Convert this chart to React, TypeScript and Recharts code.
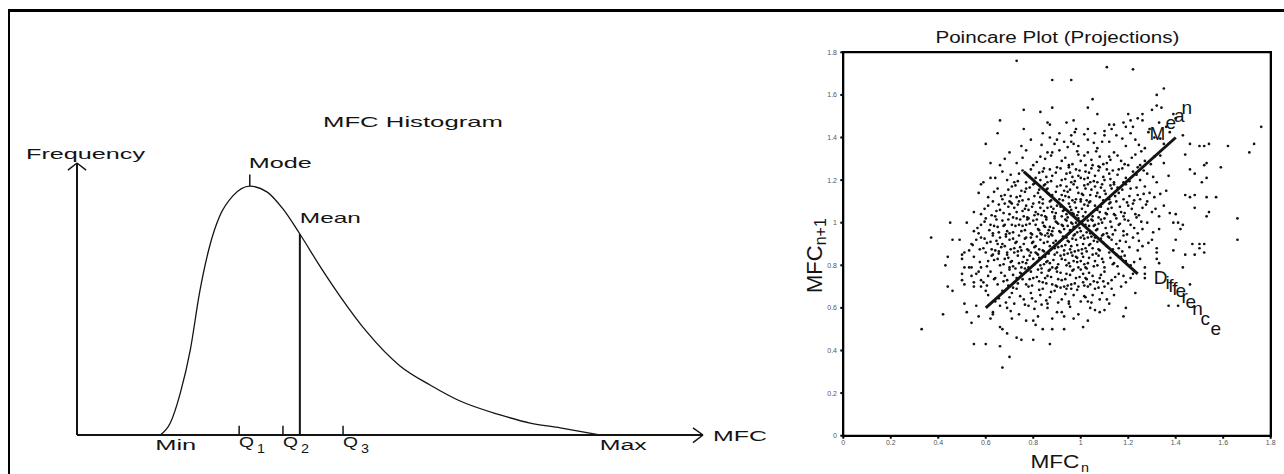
import React from 'react';
import {
  ComposedChart,
  Line,
  XAxis,
  YAxis,
  ReferenceLine,
  ReferenceDot,
  ScatterChart,
  Scatter,
  CartesianGrid,
} from 'recharts';

// ---- MFC histogram (schematic frequency curve) ----
const mfcGrid = [13.3, 14.9, 16.5, 18.1, 19.6, 21.2, 22.8, 24.9, 27.6, 30.4, 32.9, 35.6, 38.8, 42.0, 46.3, 51.6, 56.4, 61.2, 67.6, 72.4, 77.2, 83.5];
const frequency = [0, 4.4, 15.4, 31.3, 52.6, 69.5, 80.5, 87.9, 91.5, 89.3, 83.1, 73.9, 62.1, 51.1, 37.9, 25.4, 18.4, 12.5, 7.4, 4.4, 2.6, 0];

const MFC_MIN = 13.3;
const MFC_MAX = 83.5;
const MODE = 27.6;
const MODE_FREQ = 91.5;
const MEAN = 35.6;
const MEAN_FREQ = 73.9;
const quartiles = [25.9, 32.9, 42.5];
const quartileNames = ['1', '2', '3'];

// ---- Poincare plot: (MFC_n, MFC_n+1) pairs ----
const poincareTicks = [0, 0.2, 0.4, 0.6, 0.8, 1, 1.2, 1.4, 1.6, 1.8];
const meanAxis = [[0.6, 0.6], [1.4, 1.4]];
const diffAxis = [[0.76, 1.24], [1.24, 0.76]];

const mfcPairs: [number, number][] = [
  // sparse top / left
  [0.73,1.76],[0.88,1.67],[0.96,1.67],[0.76,1.53],[0.83,1.52],[0.88,1.54],[0.97,1.48],[0.66,1.48],[0.65,1.42],[0.76,1.44],
  [0.86,1.47],[0.87,1.46],[0.84,1.42],[0.6,1.37],[0.75,1.36],[0.77,1.34],[0.7,1.33],[0.87,1.4],[0.9,1.39],[0.89,1.37],
  [0.88,1.33],[0.86,1.33],[0.96,1.38],[0.97,1.37],[0.62,1.28],[0.66,1.27],[0.59,1.19],[0.58,1.18],[0.57,1.14],[0.64,1.21],
  [0.69,1.2],[0.72,1.19],[0.7,1.1],
  // sparse top / right
  [1.11,1.73],[1.22,1.72],[1.35,1.63],[1.32,1.6],[1.05,1.58],[1.03,1.54],[1.07,1.51],[1.32,1.55],[1.34,1.54],[1.3,1.53],
  [1.39,1.51],[1.4,1.49],[1.2,1.51],[1.24,1.49],[1.21,1.48],[1.18,1.47],[1.19,1.45],[1.26,1.51],[1.12,1.46],[1.13,1.44],
  [1.1,1.43],[1.09,1.38],[1.03,1.44],[1.06,1.42],[1.76,1.45],[1.73,1.37],[1.71,1.33],[1.62,1.36],[1.54,1.37],[1.52,1.36],
  [1.5,1.36],[1.59,1.26],[1.53,1.28],[1.52,1.27],[1.51,1.19],[1.53,1.21],[1.43,1.41],[1.46,1.37],[1.44,1.32],[1.46,1.25],
  [1.48,1.23],[1.44,1.13],[1.46,1.12],[1.48,1.13],[1.48,1.07],[1.53,1.12],[1.54,1.05],[1.57,1.12],[1.53,1.03],[1.66,1.02],
  [1.66,0.92],
  // sparse bottom / right
  [1.52,0.9],[1.5,0.9],[1.47,0.9],[1.5,0.88],[1.52,0.86],[1.48,0.85],[1.43,0.99],[1.42,0.97],[1.4,0.92],[1.39,0.87],
  [1.44,0.85],[1.43,0.79],[1.46,0.71],[1.41,0.61],[1.37,0.61],[1.23,0.67],[1.19,0.6],[1.18,0.56],[1.03,0.54],[1.01,0.51],
  [1.32,0.86],[1.33,0.81],[1.32,0.83],[1.27,0.79],[1.27,0.76],[1.27,0.74],[1.21,0.74],[1.22,0.76],[1.12,0.62],[1.1,0.59],
  [1.08,0.58],[1.06,0.59],[1.08,0.64],[1.03,0.63],[1.13,0.69],[1.1,0.7],[1.06,0.69],[1.03,0.7],[1.01,0.72],[0.99,0.7],
  [1.02,0.65],[1.32,0.88],[1.39,1.0],[1.41,1.0],
  // sparse bottom / left
  [0.45,1.0],[0.37,0.93],[0.46,0.92],[0.49,0.92],[0.54,0.9],[0.58,0.93],[0.5,0.85],[0.51,0.86],[0.44,0.84],[0.43,0.8],
  [0.5,0.83],[0.51,0.79],[0.53,0.79],[0.54,0.79],[0.56,0.76],[0.5,0.76],[0.54,0.75],[0.44,0.7],[0.46,0.68],[0.51,0.71],
  [0.5,0.73],[0.55,0.7],[0.58,0.73],[0.55,0.72],[0.58,0.7],[0.6,0.68],[0.61,0.66],[0.51,0.62],[0.52,0.58],[0.56,0.61],
  [0.57,0.56],[0.42,0.57],[0.33,0.5],[0.54,0.53],[0.62,0.55],[0.63,0.57],[0.66,0.51],[0.67,0.5],[0.69,0.48],[0.73,0.46],
  [0.75,0.45],[0.8,0.45],[0.87,0.43],[0.55,0.43],[0.6,0.43],[0.66,0.42],[0.7,0.37],[0.67,0.32],[0.71,0.55],[0.77,0.54],
  [0.8,0.54],[0.81,0.52],[0.84,0.5],[0.88,0.5],[0.93,0.5],[0.97,0.55],[0.92,0.58],
  // core, 0.55 - 0.70
  [0.63,0.58],[0.69,0.6],[0.74,0.57],[0.78,0.61],[0.82,0.56],[0.86,0.6],[0.9,0.58],[0.95,0.62],[0.99,0.57],[1.04,0.6],
  [0.72,0.62],[0.88,0.55],[0.66,0.61],[0.93,0.56],[0.64,0.63],[0.67,0.68],[0.7,0.65],[0.73,0.69],[0.76,0.64],[0.79,0.67],
  [0.81,0.63],[0.84,0.69],[0.87,0.65],[0.89,0.68],[0.92,0.64],[0.94,0.69],[0.97,0.66],[1.0,0.63],[1.05,0.66],[1.09,0.67],
  [1.14,0.66],[1.17,0.7],[0.71,0.67],[0.78,0.7],[0.83,0.66],[0.9,0.7],[0.96,0.69],[0.86,0.62],[0.95,0.63],[1.11,0.64],
  [0.655,0.645],[0.685,0.625],[0.715,0.695],[0.745,0.655],[0.765,0.615],[0.795,0.645],[0.825,0.685],[0.855,0.635],[0.875,0.675],[0.905,0.625],
  [0.935,0.665],[0.955,0.605],[0.985,0.685],[1.015,0.655],[1.045,0.625],[1.075,0.695],[0.805,0.595],[0.705,0.585],[0.915,0.695],[0.835,0.615],
  // core, 0.70 - 0.78
  [0.59,0.72],[0.62,0.77],[0.65,0.71],[0.68,0.75],[0.7,0.78],[0.72,0.72],[0.75,0.76],[0.77,0.71],[0.8,0.74],[0.82,0.78],
  [0.84,0.72],[0.86,0.75],[0.88,0.71],[0.9,0.77],[0.92,0.73],[0.94,0.76],[0.96,0.71],[0.98,0.74],[1.0,0.78],[1.02,0.74],
  [1.05,0.75],[1.07,0.72],[1.1,0.77],[1.13,0.73],[1.16,0.76],[1.19,0.72],[0.64,0.74],[0.73,0.74],[0.79,0.77],[0.87,0.78],
  [0.93,0.7],[1.01,0.76],[1.08,0.74],[0.57,0.77],[0.69,0.73],[0.85,0.74],[0.97,0.78],[1.04,0.71],[1.18,0.75],[0.61,0.75],
  [0.605,0.705],[0.635,0.735],[0.665,0.765],[0.695,0.705],[0.715,0.755],[0.735,0.715],[0.755,0.735],[0.775,0.775],[0.795,0.705],[0.815,0.745],
  [0.835,0.765],[0.855,0.715],[0.875,0.745],[0.895,0.705],[0.915,0.765],[0.935,0.735],[0.955,0.755],[0.975,0.715],[0.995,0.745],[1.015,0.705],
  [1.035,0.765],[1.055,0.725],[1.085,0.755],[1.115,0.715],[1.145,0.745],[0.675,0.725],[0.745,0.765],[0.825,0.725],[0.905,0.735],[0.965,0.775],
  [1.025,0.735],[1.095,0.725],[0.785,0.735],[0.865,0.775],[0.945,0.705],
  // core, 0.78 - 0.86
  [0.55,0.84],[0.58,0.79],[0.61,0.82],[0.63,0.85],[0.66,0.8],[0.68,0.83],[0.7,0.79],[0.72,0.86],[0.74,0.81],[0.76,0.84],
  [0.78,0.79],[0.8,0.83],[0.81,0.86],[0.83,0.8],[0.85,0.84],[0.87,0.81],[0.89,0.85],[0.9,0.79],[0.92,0.83],[0.94,0.8],
  [0.96,0.86],[0.97,0.82],[0.99,0.79],[1.01,0.84],[1.03,0.81],[1.05,0.85],[1.07,0.8],[1.09,0.83],[1.12,0.86],[1.14,0.81],
  [1.17,0.84],[1.21,0.8],[1.25,0.83],[0.6,0.86],[0.65,0.83],[0.71,0.82],[0.77,0.81],[0.82,0.85],[0.88,0.79],[0.93,0.85],
  [0.98,0.84],[1.02,0.79],[1.06,0.82],[1.1,0.79],[1.19,0.82],[0.75,0.79],[0.86,0.82],[0.95,0.81],[1.0,0.82],[0.69,0.85],
  [0.79,0.86],[1.15,0.85],
  [0.575,0.815],[0.605,0.795],[0.635,0.825],[0.655,0.855],[0.675,0.805],[0.695,0.835],[0.715,0.795],[0.735,0.845],[0.755,0.815],[0.765,0.785],
  [0.785,0.845],[0.805,0.805],[0.825,0.835],[0.835,0.785],[0.855,0.815],[0.865,0.855],[0.885,0.825],[0.905,0.805],[0.915,0.845],[0.935,0.825],
  [0.955,0.795],[0.965,0.845],[0.985,0.815],[1.005,0.855],[1.015,0.805],[1.035,0.835],[1.055,0.795],[1.075,0.845],[1.095,0.815],[1.125,0.835],
  [1.155,0.795],[1.185,0.845],[1.225,0.815],[0.625,0.845],[0.705,0.815],[0.775,0.825],[0.845,0.805],[0.895,0.785],[0.945,0.855],[1.025,0.785],
  [1.065,0.855],[1.135,0.805],[0.725,0.785],[0.985,0.835],[0.815,0.855],
  // core, 0.86 - 0.94
  [0.53,0.87],[0.56,0.92],[0.59,0.88],[0.62,0.91],[0.64,0.87],[0.66,0.93],[0.68,0.89],[0.7,0.92],[0.72,0.88],[0.74,0.94],
  [0.76,0.9],[0.78,0.87],[0.79,0.93],[0.81,0.89],[0.83,0.92],[0.84,0.87],[0.86,0.91],[0.88,0.94],[0.89,0.88],[0.91,0.91],
  [0.93,0.87],[0.94,0.93],[0.96,0.89],[0.98,0.92],[0.99,0.87],[1.01,0.9],[1.03,0.93],[1.05,0.88],[1.07,0.91],[1.09,0.94],
  [1.11,0.89],[1.13,0.92],[1.16,0.88],[1.19,0.91],[1.22,0.93],[1.26,0.89],[1.3,0.92],[0.63,0.94],[0.65,0.9],[0.69,0.86],
  [0.73,0.91],[0.77,0.93],[0.8,0.91],[0.85,0.94],[0.9,0.86],[0.92,0.89],[0.97,0.94],[1.0,0.93],[1.04,0.9],[1.08,0.87],
  [1.12,0.93],[1.15,0.9],[0.67,0.9],[0.75,0.87],[0.87,0.89],[0.95,0.91],[1.02,0.88],[1.06,0.93],[1.24,0.87],[1.18,0.94],
  [0.545,0.895],[0.575,0.875],[0.605,0.905],[0.625,0.875],[0.645,0.915],[0.665,0.885],[0.685,0.935],[0.705,0.875],[0.725,0.905],[0.745,0.885],
  [0.765,0.925],[0.775,0.875],[0.795,0.905],[0.815,0.935],[0.825,0.875],[0.845,0.905],[0.865,0.935],[0.875,0.875],[0.895,0.915],[0.905,0.885],
  [0.925,0.935],[0.935,0.895],[0.955,0.875],[0.965,0.925],[0.985,0.895],[1.005,0.875],[1.015,0.925],[1.035,0.895],[1.055,0.915],[1.075,0.875],
  [1.095,0.905],[1.115,0.935],[1.135,0.875],[1.165,0.915],[1.205,0.885],[1.245,0.915],[0.655,0.865],[0.735,0.865],[0.805,0.885],[0.885,0.905],
  [0.945,0.915],[1.025,0.865],[1.085,0.925],[1.175,0.865],[0.715,0.925],[0.845,0.865],[0.975,0.865],[1.045,0.935],[0.595,0.925],[1.285,0.905],
  // core, 0.94 - 1.02
  [0.52,1.0],[0.55,0.96],[0.58,0.99],[0.6,1.02],[0.63,0.95],[0.65,0.98],[0.67,1.01],[0.69,0.96],[0.71,0.99],[0.73,1.02],
  [0.75,0.96],[0.77,0.99],[0.79,0.95],[0.8,1.01],[0.82,0.97],[0.84,1.0],[0.86,0.95],[0.87,0.98],[0.89,1.02],[0.91,0.96],
  [0.92,0.99],[0.94,1.01],[0.95,0.95],[0.97,0.98],[0.99,1.02],[1.0,0.96],[1.02,0.99],[1.04,0.95],[1.05,1.01],[1.07,0.97],
  [1.09,1.0],[1.11,0.95],[1.13,0.98],[1.15,1.02],[1.18,0.96],[1.21,0.99],[1.24,0.95],[1.28,1.0],[1.33,0.97],[0.62,0.99],
  [0.68,0.99],[0.74,0.99],[0.78,1.02],[0.83,0.95],[0.88,0.96],[0.93,0.97],[0.98,1.0],[1.01,0.94],[1.06,0.99],[1.1,1.02],
  [1.16,0.99],[0.57,0.95],[0.81,0.99],[0.9,1.0],[0.96,1.0],[1.03,1.01],[1.2,1.01],[0.7,0.95],[0.85,0.98],[1.26,0.97],
  [0.565,0.975],[0.595,1.005],[0.615,0.965],[0.645,1.015],[0.655,0.955],[0.675,0.985],[0.695,1.015],[0.715,0.955],[0.725,0.985],[0.745,1.015],
  [0.765,0.965],[0.785,0.995],[0.795,0.945],[0.815,1.015],[0.825,0.965],[0.845,0.985],[0.855,1.015],[0.875,0.945],[0.885,0.975],[0.895,1.005],
  [0.915,0.955],[0.925,0.985],[0.935,1.015],[0.955,0.965],[0.965,0.995],[0.975,0.945],[0.995,0.975],[1.005,1.005],[1.025,0.955],[1.035,0.985],
  [1.045,1.015],[1.065,0.965],[1.075,0.995],[1.095,0.945],[1.105,0.975],[1.125,1.005],[1.145,0.965],[1.165,0.995],[1.195,0.945],[1.225,0.975],
  [1.255,1.005],[1.305,0.955],[0.685,0.945],[0.755,0.985],[0.835,0.945],[0.905,0.995],[0.985,0.955],[1.055,0.985],[1.135,0.945],[1.185,1.015],
  [0.635,0.985],[0.775,1.015],[0.865,0.965],[0.945,0.985],[1.085,1.015],
  // core, 1.02 - 1.10
  [0.55,1.05],[0.58,1.04],[0.61,1.08],[0.64,1.03],[0.66,1.06],[0.68,1.09],[0.7,1.04],[0.72,1.07],[0.74,1.1],[0.76,1.03],
  [0.78,1.06],[0.8,1.09],[0.82,1.04],[0.83,1.07],[0.85,1.03],[0.87,1.1],[0.88,1.05],[0.9,1.08],[0.92,1.03],[0.93,1.06],
  [0.95,1.09],[0.97,1.04],[0.98,1.07],[1.0,1.1],[1.02,1.05],[1.03,1.08],[1.05,1.03],[1.07,1.06],[1.09,1.09],[1.11,1.04],
  [1.13,1.07],[1.15,1.1],[1.17,1.05],[1.2,1.08],[1.23,1.04],[1.26,1.07],[1.3,1.05],[1.35,1.08],[1.4,1.04],[0.63,1.1],
  [0.71,1.09],[0.77,1.08],[0.84,1.09],[0.89,1.03],[0.94,1.04],[0.99,1.05],[1.04,1.1],[1.08,1.05],[1.12,1.09],[1.18,1.03],
  [1.22,1.09],[0.81,1.05],[0.96,1.06],[1.01,1.03],[1.06,1.08],[0.73,1.05],[0.86,1.07],[1.14,1.04],[1.28,1.1],[1.33,1.03],
  [0.595,1.065],[0.625,1.035],[0.655,1.085],[0.675,1.045],[0.695,1.075],[0.715,1.025],[0.735,1.085],[0.755,1.055],[0.775,1.025],[0.795,1.075],
  [0.805,1.035],[0.825,1.095],[0.845,1.055],[0.855,1.025],[0.875,1.075],[0.895,1.045],[0.905,1.095],[0.925,1.055],[0.945,1.025],[0.955,1.075],
  [0.975,1.095],[0.985,1.035],[1.005,1.065],[1.025,1.025],[1.035,1.095],[1.055,1.055],[1.075,1.025],[1.085,1.075],[1.105,1.045],[1.125,1.095],
  [1.145,1.035],[1.165,1.075],[1.185,1.045],[1.215,1.065],[1.245,1.035],[1.275,1.085],[1.315,1.065],[1.375,1.045],[0.705,1.095],[0.765,1.065],
  [0.835,1.035],[0.915,1.075],[0.965,1.045],[1.045,1.045],[1.115,1.065],[1.195,1.095],[0.645,1.055],[0.885,1.065],[1.015,1.085],[1.235,1.025],
  // core, 1.10 - 1.18
  [0.61,1.12],[0.65,1.16],[0.68,1.13],[0.71,1.17],[0.73,1.12],[0.75,1.15],[0.78,1.11],[0.8,1.18],[0.82,1.14],[0.84,1.11],
  [0.86,1.16],[0.88,1.13],[0.9,1.17],[0.91,1.11],[0.93,1.15],[0.95,1.12],[0.97,1.18],[0.99,1.14],[1.0,1.11],[1.02,1.16],
  [1.04,1.13],[1.06,1.17],[1.08,1.12],[1.1,1.15],[1.12,1.11],[1.14,1.18],[1.16,1.14],[1.18,1.11],[1.21,1.16],[1.24,1.13],
  [1.27,1.17],[1.31,1.12],[1.36,1.15],[0.77,1.16],[0.85,1.18],[0.92,1.13],[0.98,1.11],[1.03,1.18],[1.07,1.14],[1.13,1.16],
  [1.19,1.18],[0.83,1.12],[0.94,1.17],[1.01,1.13],[1.09,1.18],[1.25,1.11],[1.29,1.14],[0.67,1.11],
  [0.635,1.145],[0.665,1.125],[0.695,1.155],[0.725,1.175],[0.745,1.125],[0.765,1.145],[0.785,1.165],[0.805,1.125],[0.825,1.155],[0.845,1.175],
  [0.865,1.135],[0.875,1.105],[0.895,1.145],[0.915,1.175],[0.935,1.125],[0.955,1.155],[0.965,1.105],[0.985,1.165],[1.005,1.135],[1.025,1.105],
  [1.045,1.155],[1.065,1.125],[1.085,1.165],[1.105,1.135],[1.125,1.175],[1.145,1.125],[1.175,1.155],[1.205,1.125],[1.235,1.165],[1.265,1.135],
  [1.335,1.135],[0.755,1.105],[0.855,1.155],[0.945,1.145],[1.015,1.175],[1.095,1.105],[1.155,1.165],[1.225,1.105],[0.705,1.125],[0.925,1.105],
  // core, 1.18 - 1.26
  [0.62,1.21],[0.67,1.24],[0.74,1.23],[0.77,1.19],[0.79,1.25],[0.81,1.21],[0.84,1.24],[0.86,1.19],[0.88,1.22],[0.9,1.26],
  [0.92,1.2],[0.94,1.23],[0.96,1.19],[0.98,1.25],[1.0,1.21],[1.02,1.24],[1.04,1.19],[1.06,1.22],[1.08,1.26],[1.1,1.2],
  [1.12,1.23],[1.14,1.19],[1.16,1.25],[1.19,1.21],[1.22,1.24],[1.25,1.2],[1.28,1.23],[1.32,1.19],[1.37,1.22],[0.87,1.25],
  [0.95,1.26],[1.03,1.21],[1.11,1.25],[1.18,1.19],[0.83,1.2],[0.99,1.22],[1.07,1.19],[1.24,1.26],
  [0.705,1.225],[0.735,1.195],[0.755,1.245],[0.785,1.215],[0.805,1.185],[0.825,1.235],[0.855,1.215],[0.875,1.195],[0.895,1.235],[0.915,1.255],
  [0.935,1.205],[0.955,1.235],[0.975,1.195],[0.995,1.245],[1.015,1.205],[1.035,1.235],[1.055,1.195],[1.075,1.245],[1.095,1.215],[1.125,1.205],
  [1.155,1.225],[1.175,1.255],[1.205,1.195],[1.235,1.225],[1.265,1.245],[1.305,1.215],[0.965,1.215],[1.045,1.255],[0.845,1.255],[1.135,1.245],
  // core, 1.26 - 1.34
  [0.68,1.3],[0.73,1.28],[0.8,1.27],[0.83,1.31],[0.92,1.29],[0.95,1.27],[0.99,1.32],[1.0,1.29],[1.03,1.33],[1.05,1.27],
  [1.08,1.31],[1.11,1.28],[1.14,1.33],[1.17,1.29],[1.2,1.27],[1.23,1.32],[1.27,1.29],[1.31,1.31],[0.91,1.34],[1.02,1.27],
  [1.12,1.31],[0.85,1.3],[1.25,1.27],[1.35,1.28],
  [0.755,1.305],[0.815,1.285],[0.875,1.315],[0.935,1.305],[0.965,1.275],[1.015,1.315],[1.045,1.295],[1.065,1.335],[1.095,1.275],[1.125,1.295],
  [1.155,1.315],[1.185,1.275],[1.215,1.305],[1.255,1.335],[1.295,1.275],[0.985,1.335],[1.075,1.265],[1.335,1.315],
  // core, 1.34 - 1.50
  [0.79,1.39],[0.93,1.38],[0.96,1.41],[0.99,1.36],[1.03,1.39],[1.07,1.35],[1.12,1.38],[1.15,1.41],[1.19,1.36],[1.23,1.39],
  [1.27,1.35],[1.31,1.4],[1.35,1.37],[0.91,1.42],[1.1,1.41],[1.21,1.42],[0.94,1.47],[0.98,1.44],[1.14,1.46],[1.22,1.45],
  [1.26,1.48],[1.29,1.44],[1.33,1.47],[1.36,1.45],
  [0.835,1.365],[0.945,1.355],[1.015,1.415],[1.055,1.375],[1.175,1.395],[1.245,1.365],[1.285,1.425],[1.335,1.395],[1.375,1.425],[0.975,1.425],
];

const FONT = '"Liberation Sans", Arial, Helvetica, sans-serif';
const INK = '#141414';

type Piece = {
  text: string;
  dx: number;
  dy: number;
  size: number;
  width?: number;
  // per-glyph offsets for words whose letters step along a diagonal
  xs?: number[];
  ys?: number[];
};

// label renderer anchored on a ReferenceDot; offsets are in pixels from the dot
const pieces = (list: Piece[]) => (props: any) => {
  const vb = props.viewBox || {};
  const cx = (vb.x ?? 0) + (vb.width ?? 0) / 2;
  const cy = (vb.y ?? 0) + (vb.height ?? 0) / 2;
  return (
    <g>
      {list.map((p, i) => (
        <text
          key={i}
          x={p.xs ? p.xs.map((v) => cx + p.dx + v).join(' ') : cx + p.dx}
          y={p.ys ? p.ys.map((v) => cy + p.dy + v).join(' ') : cy + p.dy}
          fontSize={p.size}
          fontFamily={FONT}
          fill={INK}
          {...(p.width ? { textLength: p.width, lengthAdjust: 'spacingAndGlyphs' } : {})}
        >
          {p.text}
        </text>
      ))}
    </g>
  );
};

const anchor = (key: string, x: number, y: number, list: Piece[]) => (
  <ReferenceDot
    key={key}
    x={x}
    y={y}
    r={1}
    fill="none"
    stroke="none"
    ifOverflow="visible"
    label={pieces(list)}
  />
);

const seg = (key: string, a: [number, number], b: [number, number], width = 1.6, color = INK) => (
  <ReferenceLine
    key={key}
    segment={[{ x: a[0], y: a[1] }, { x: b[0], y: b[1] }]}
    stroke={color}
    strokeWidth={width}
    ifOverflow="visible"
  />
);

const tickFmt = (v: number) => v.toFixed(1).replace(/\.0$/, '');

const histData = mfcGrid.map((m, i) => ({ mfc: m, freq: frequency[i] }));
const pairData = mfcPairs.map(([x, y]) => ({ x, y }));

const LO = poincareTicks[0];
const HI = poincareTicks[poincareTicks.length - 1];
const BOX = '#000';

const dot = (p: any) => <circle cx={p.cx} cy={p.cy} r={1.35} fill="#111" />;

function Histogram() {
  return (
    <ComposedChart
      width={800}
      height={474}
      data={histData}
      margin={{ top: 163, right: 97, bottom: 39, left: 77 }}
    >
      <XAxis dataKey="mfc" type="number" domain={[0, 100]} hide />
      <YAxis type="number" domain={[0, 100]} hide />
      {/* axes with arrow heads */}
      {seg('yaxis', [0, 0], [0, 100], 2)}
      {seg('xaxis', [0, 0], [100, 0], 2)}
      {seg('yarrL', [0, 100], [-1.45, 97.4], 1.5)}
      {seg('yarrR', [0, 100], [1.45, 97.4], 1.5)}
      {seg('xarrU', [100, 0], [98.4, 2.6], 1.5)}
      {seg('xarrD', [100, 0], [98.4, -2.8], 1.5)}
      {/* mode tick, mean drop line, quartile ticks */}
      {seg('mode', [MODE, MODE_FREQ], [MODE, MODE_FREQ + 4.3], 1.5)}
      {seg('mean', [MEAN, 0], [MEAN, MEAN_FREQ], 2)}
      {quartiles.map((q, i) => seg(`q${i}`, [q, 0], [q, 3.4], 1.5))}
      <Line
        dataKey="freq"
        type="monotone"
        stroke={INK}
        strokeWidth={1.3}
        dot={false}
        isAnimationActive={false}
      />
      {anchor('title', 50, 100, [{ text: 'MFC Histogram', dx: -67, dy: -36, size: 15, width: 180 }])}
      {anchor('freq', 0, 100, [{ text: 'Frequency', dx: -51, dy: -4, size: 14, width: 119 }])}
      {anchor('modeL', MODE, MODE_FREQ, [{ text: 'Mode', dx: -1, dy: -18, size: 15, width: 63 }])}
      {anchor('meanL', MEAN, MEAN_FREQ, [{ text: 'Mean', dx: 0, dy: -11, size: 15, width: 61 }])}
      {anchor('minL', MFC_MIN, 0, [{ text: 'Min', dx: -5, dy: 15, size: 14, width: 41 }])}
      {anchor('maxL', MFC_MAX, 0, [{ text: 'Max', dx: 0, dy: 15, size: 14, width: 47 }])}
      {anchor('mfcL', 100, 0, [{ text: 'MFC', dx: 10, dy: 6, size: 15, width: 54 }])}
      {quartiles.map((q, i) =>
        anchor(`qL${i}`, q, 0, [
          { text: 'Q', dx: 0, dy: 12, size: 14, width: 15 },
          { text: quartileNames[i], dx: 18, dy: 18, size: 13, width: 8 },
        ]),
      )}
    </ComposedChart>
  );
}

const tickText = { fontSize: 7, fill: '#555', fontFamily: FONT };

function Poincare() {
  return (
    <ScatterChart
      width={504}
      height={474}
      margin={{ top: 52.3, right: 13.3, bottom: 24.3, left: 33.3 }}
    >
      {/* top and right sides of the axes box */}
      <CartesianGrid horizontalValues={[HI]} verticalValues={[HI]} stroke={BOX} strokeWidth={2} strokeDasharray="" />
      <XAxis
        dataKey="x"
        type="number"
        domain={[LO, HI]}
        ticks={poincareTicks}
        interval={0}
        tickFormatter={tickFmt}
        height={14}
        tickSize={3}
        tickMargin={1.5}
        tick={tickText}
        stroke={BOX}
        strokeWidth={2}
      />
      <YAxis
        dataKey="y"
        type="number"
        domain={[LO, HI]}
        ticks={poincareTicks}
        interval={0}
        tickFormatter={tickFmt}
        width={30}
        tickSize={3}
        tickMargin={3.3}
        tick={tickText}
        stroke={BOX}
        strokeWidth={2}
      />
      <Scatter data={pairData} shape={dot} isAnimationActive={false} />
      {seg('meanAxis', meanAxis[0] as [number, number], meanAxis[1] as [number, number], 3)}
      {seg('diffAxis', diffAxis[0] as [number, number], diffAxis[1] as [number, number], 3)}
      {anchor('ptitle', 0.9, HI, [{ text: 'Poincare Plot (Projections)', dx: -121.6, dy: -9, size: 16, width: 244 }])}
      {anchor('xlab', 0.9, LO, [
        { text: 'MFC', dx: -26.6, dy: 32, size: 18, width: 49 },
        { text: 'n', dx: 24, dy: 36, size: 13, width: 8 },
      ])}
      <ReferenceDot
        x={LO}
        y={1}
        r={1}
        fill="none"
        stroke="none"
        ifOverflow="visible"
        label={(props: any) => {
          const vb = props.viewBox || {};
          const x = (vb.x ?? 0) + (vb.width ?? 0) / 2 - 21.3;
          const y = (vb.y ?? 0) + (vb.height ?? 0) / 2 + 70.3;
          return (
            <text transform={`translate(${x},${y}) rotate(-90)`} fontSize={22} fontFamily={FONT} fill={INK}>
              MFC
              <tspan dy={4} fontSize={16}>n+1</tspan>
            </text>
          );
        }}
      />
      {anchor('meanWord', meanAxis[1][0], meanAxis[1][1], [
        { text: 'Mean', dx: 0, dy: 0, size: 19, xs: [-26.1, -10.1, -1.8, 5.9], ys: [2.5, -8.5, -15.8, -23.2] },
      ])}
      {anchor('diffWord', diffAxis[1][0], diffAxis[1][1], [
        {
          text: 'Difference',
          dx: 0,
          dy: 0,
          size: 19,
          xs: [16.1, 27.8, 30.5, 34.5, 37.8, 43.8, 47.8, 54.5, 62.8, 72.8],
          ys: [10.2, 15.5, 17.9, 21.2, 23.5, 29.5, 34.5, 41.2, 51.2, 61.2],
        },
      ])}
    </ScatterChart>
  );
}

export default function App() {
  return (
    <div
      style={{
        position: 'absolute',
        left: 0,
        top: 0,
        width: 1284,
        height: 474,
        background: '#fff',
        overflow: 'hidden',
      }}
    >
      <div
        style={{
          position: 'absolute',
          left: 8,
          top: 9,
          width: 1300,
          height: 500,
          borderLeft: '2px solid #000',
          borderTop: '3px solid #000',
        }}
      />
      <div style={{ position: 'absolute', left: 0, top: 0 }}>
        <Histogram />
      </div>
      <div style={{ position: 'absolute', left: 780, top: 0 }}>
        <Poincare />
      </div>
      {/* frame of the Poincare axes box */}
      <div
        style={{
          position: 'absolute',
          left: 842,
          top: 51,
          width: 426,
          height: 382,
          border: `2px solid ${BOX}`,
          zIndex: 5,
          pointerEvents: 'none',
        }}
      />
    </div>
  );
}
